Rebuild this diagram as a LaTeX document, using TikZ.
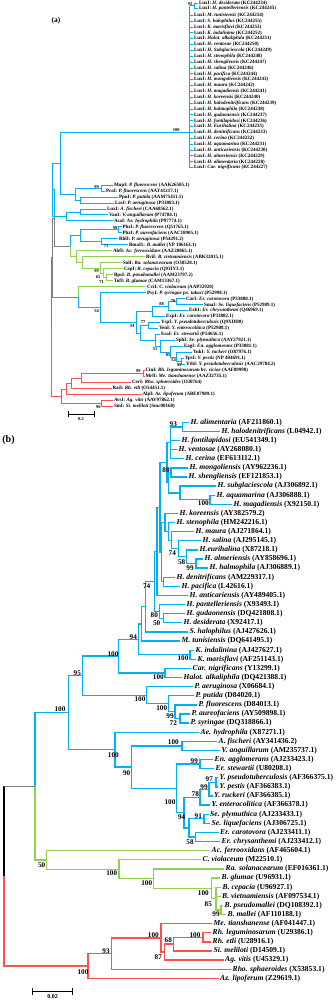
\documentclass[tikz,border=0pt]{standalone}
\usepackage{fontspec}
\setmainfont{Liberation Serif}
\usetikzlibrary{calc}
\definecolor{cblue}{RGB}{0,176,240}
\definecolor{cgreen}{RGB}{146,208,80}
\definecolor{cred}{RGB}{255,80,80}
\definecolor{cgrey}{RGB}{128,128,128}
\def\brw{1.3pt}
\tikzset{
 bl/.style={draw=cblue,line width=\brw},
 gr/.style={draw=cgreen,line width=\brw},
 rd/.style={draw=cred,line width=\brw},
 gy/.style={draw=cgrey,line width=\brw},
 bk/.style={draw=black,line width=\brw},
 cur/.style={bl},
 lfb/.style={anchor=west,inner sep=1.5pt,font=\fontsize{7.6}{8}\selectfont\bfseries},
 lfa/.style={anchor=west,inner sep=0.8pt,font=\fontsize{5}{5.5}\selectfont\bfseries},
 bsb/.style={inner sep=0pt,font=\fontsize{7.2}{8}\selectfont\bfseries},
 bsa/.style={inner sep=0pt,font=\fontsize{4.5}{5}\selectfont\bfseries},
 sbar/.style={draw=black,line width=0.7pt},
}
\newcommand\tnode[4]{\coordinate (m#1) at ($(#3)!0.5!(#4)$);\coordinate (x#1) at (#2,0);\coordinate (#1) at (m#1 -| x#1);}
\newcommand\tn[4]{\tnode{#1}{#2}{#3}{#4}\draw[cur] (#1) |- (#3);\draw[cur] (#1) |- (#4);}
\newcommand\tnc[6]{\tnode{#1}{#2}{#3}{#4}\draw[#5] (#1) |- (#3);\draw[#6] (#1) |- (#4);}
\newcommand\tx[2]{\draw[cur] (#1 |- #2) -- (#2);}
\newcommand\lb[3]{\coordinate (b#1) at (#2,{422.3+9.115*#1});\node[lfb] (tb#1) at (b#1) {#3};}
\newcommand\la[4]{\coordinate (#1) at (#3,{185+5.99*#2});\node[lfa] (t#1) at (#1) {#4};}
\begin{document}
\begin{tikzpicture}[x=1pt,y=-1pt]
\fill[white] (0,0) rectangle (336,1000);
\useasboundingbox (0,0) rectangle (336,1000);

% ================= PANEL (a) =================
\begin{scope}
\def\brw{0.9pt}
\node[inner sep=0pt,font=\fontsize{7.5}{8}\selectfont\bfseries] (pa) at (56,20.7) {(a)};
% LuxI clade
\coordinate (Lux) at (189.7,132.7);
\coordinate (lr1) at (198,3.5);
\coordinate (lr2) at (198,8.3);
\node[lfa] (tlr1) at (lr1) {LuxI: \textit{H. desiderata} (KC244234)};
\node[lfa] (tlr2) at (lr2) {LuxI: \textit{H. pantelleriensis} (KC244245)};
\tikzset{cur/.style={bl}}
\tn{a92}{194}{lr1}{lr2}
\coordinate (lrend) at (189.7,167.66);
\draw[bl] (Lux |- a92) -- (a92);
\draw[bl] (Lux |- a92) -- (lrend);
\foreach \t [count=\k from 3] in {
 {LuxI: \textit{M. tunisiensis} (KC244254)},
 {LuxI: \textit{S. halophilus} (KC244255)},
 {LuxI: \textit{K. marisflavi} (KC244253)},
 {LuxI: \textit{K. indalinina} (KC244252)},
 {LuxI: \textit{Halot. alkaliphila} (KC244251)},
 {LuxI: \textit{H. ventosae} (KC244250)},
 {LuxI: \textit{H. Subglaciescola} (KC244249)},
 {LuxI: \textit{H. stenophila} (KC244248)},
 {LuxI: \textit{H. shengliensis} (KC244247)},
 {LuxI: \textit{H. salina} (KC244246)},
 {LuxI: \textit{H. pacifica} (KC244244)},
 {LuxI: \textit{H. mongoliensis} (KC244243)},
 {LuxI: \textit{H. maura} (KC244242)},
 {LuxI: \textit{H. magadiensis} (KC244241)},
 {LuxI: \textit{H. koreensis} (KC244240)},
 {LuxI: \textit{H. halodenitrificans} (KC244239)},
 {LuxI: \textit{H. halmophila} (KC244238)},
 {LuxI: \textit{H. gudaonensis} (KC244237)},
 {LuxI: \textit{H. fontilapidosi} (KC244236)},
 {LuxI: \textit{H. Eurihalina} (KC244235)},
 {LuxI: \textit{H. denitrificans} (KC244233)},
 {LuxI: \textit{H. cerina} (KC244232)},
 {LuxI: \textit{H. aquamarina} (KC244231)},
 {LuxI: \textit{H. anticariensis} (KC244230)},
 {LuxI: \textit{H. almeriensis} (KC244229)},
 {LuxI: \textit{H. alimentaria} (KC244228)},
 {LuxI: \textit{Car. nigrificans} (KC244227)}}{
 \coordinate (lr\k) at (193,{15.3+5.86*(\k-3)});
 \node[lfa] (tlr\k) at (lr\k) {\t};
 \draw[bl] (Lux |- lr\k) -- (lr\k);
}
% leaves
\la{aMup}{0}{113}{MupI: \textit{P. fluorescens} (AAK26505.1)}
\la{aPco}{1}{105}{PcoI: \textit{P. fluorescens} (AAT41217.1)}
\la{aPpu}{2}{118}{PpuI: \textit{P. putida} (AAM75411.1)}
\la{aLas}{3}{114}{LasI: \textit{P. aeruginosa} (P33883.1)}
\la{aLux}{4}{106}{LuxI: \textit{A. fischeri} (CAA68562.1)}
\la{aVan}{5}{108}{VanI: \textit{V. anguillarum} (P74784.1)}
\la{aAsa}{6}{113}{AsaI: \textit{Ae. hydrophila} (P97774.1)}
\la{aPh1}{7}{121.5}{PhzI: \textit{P. fluorescens} (Q51765.1)}
\la{aPh2}{8}{121.5}{PhzI: \textit{P. aureofaciens} (AAC18905.1)}
\la{aRhl}{9}{118}{RhlI: \textit{P. aeruginosa} (P54291.2)}
\la{aBma}{10}{128}{BmaI1: \textit{B. mallei} (YP 106161.1)}
\la{aAbf}{11}{112}{AbfI: \textit{Ac. ferrooxidans} (AAZ20865.1)}
\la{aBvi}{12}{145}{BviI: \textit{B. vietnamiensis} (ABK32015.1)}
\la{aSol}{13}{122}{SolI: \textit{Ra. solanacearum} (O30528.1)}
\la{aCep}{14}{123}{CepI: \textit{B. cepacia} (Q93IY3.1)}
\la{aBps}{15}{113}{BpsI: \textit{B. pseudomallei} (AAM23797.2)}
\la{aTof}{16}{113}{TofI: \textit{B. glumae} (CAM13367.1)}
\la{aCvi}{17}{146}{CviI: \textit{C. violaceum} (AAP32920)}
\la{aPsy}{18}{146}{PsyI: \textit{P. syringae} pv. \textit{tabaci} (P52998.1)}
\la{aCar}{19}{185}{CarI: \textit{Er. carotovora} (P33880.1)}
\la{aSma}{20}{203}{SmaI: \textit{Se. liquefaciens} (P52989.1)}
\la{aExb}{21}{188}{ExbI: \textit{Er. chrysanthemi} (Q46969.1)}
\la{aExp}{22}{165}{ExpI: \textit{Er. carotovora} (P33882.1)}
\la{aYsp}{23}{160}{YspI: \textit{Y. pseudotuberculosis} (Q9XDD0)}
\la{aYen}{24}{158}{YenI: \textit{Y. enterocolitica} (P52988.1)}
\la{aEsa}{25}{160}{EsaI: \textit{Er. stewartii} (P54656.1)}
\la{aSph}{26}{175}{SphI: \textit{Se. plymuthica} (AAY27921.1)}
\la{aEag}{27}{183}{EagI: \textit{En. agglomerans} (P33881.1)}
\la{aYuk}{28}{192}{YukI: \textit{Y. ruckeri} (O87976.1)}
\la{aYps}{29}{184}{YpsI: \textit{Y. pestis} (NP 404691.1)}
\la{aYtb}{30}{185}{YtbI: \textit{Y. pseudotuberculosis} (AAC29784.2)}
\la{aCin}{31}{144.5}{CinI: \textit{Rh. leguminosarum} bv. \textit{viciae} (AAF89990)}
\la{aMrl}{32}{144.5}{MrlI: \textit{Me. tianshanense} (AAZ32735.1)}
\la{aCer}{33}{131}{CerI: \textit{Rho. sphaeroides} (O30764)}
\la{aRai}{34}{111.5}{RaiI: \textit{Rh. etli} (O54451.1)}
\la{aAlp}{35}{141.5}{AlpI: \textit{Az. lipoferum} (ABE07989.1)}
\la{aAvs}{36}{113}{AvsI: \textit{Ag. vitis} (AAV97862.1)}
\la{aSin}{37}{113}{SinI: \textit{Si. meliloti} (Smc00168)}
% tree (a)
\tikzset{cur/.style={bl}}
\tn{aMP}{101}{aMup}{aPco}
\tn{aPL}{80}{aPpu}{aLas}
\tn{aPs}{75}{aMP}{aPL}
\tn{aP1}{60}{Lux}{aPs}
\tn{aLV}{80}{aLux}{aVan}
\tn{aP2}{66.7}{aLV}{aAsa}
\tn{aQ1}{52}{aP1}{aP2}
\tn{aPP}{118}{aPh1}{aPh2}
\tn{aRB}{101.7}{aRhl}{aBma}
\tn{aPs2}{80}{aPP}{aRB}
\tikzset{cur/.style={gr}}
\tn{aTB}{106}{aBps}{aTof}
\tn{aCX}{103}{aCep}{aTB}
\tn{aSC}{100}{aSol}{aCX}
\tn{aBC}{82}{aBvi}{aSC}
\tn{aBu}{76.7}{aAbf}{aBC}
\tnc{aG3}{70}{aPs2}{aBu}{bl}{gr}
\tnc{aQ2}{54}{aQ1}{aG3}{bl}{gy}
\tikzset{cur/.style={bl}}
\tn{aCS}{176}{aCar}{aSma}
\tn{aCSE}{168}{aCS}{aExb}
\tn{aCE}{152}{aCSE}{aExp}
\tn{aYY}{148}{aYsp}{aYen}
\tn{aYP}{181.5}{aYps}{aYtb}
\tn{aYU}{176}{aYuk}{aYP}
\tn{aEY}{170}{aEag}{aYU}
\tn{aSE}{160}{aSph}{aEY}
\tn{aES}{155}{aEsa}{aSE}
\tn{aYE}{140}{aYY}{aES}
\tn{aEC}{136.7}{aCE}{aYE}
\tn{aEn}{100}{aPsy}{aEC}
\tnc{aCv}{78.3}{aCvi}{aEn}{gr}{bl}
\tnc{aQ3}{52.5}{aQ2}{aCv}{gy}{gy}
\tikzset{cur/.style={rd}}
\tn{aCM}{143.3}{aCin}{aMrl}
\tn{aX1}{81}{aCM}{aCer}
\tn{aX2}{71.7}{aX1}{aRai}
\tn{aX3}{66.7}{aX2}{aAlp}
\tn{aAS}{101.7}{aAvs}{aSin}
\tn{aX4}{61.7}{aX3}{aAS}
\tnc{aR}{51.5}{aQ3}{aX4}{gy}{rd}
% bootstrap (a)
\foreach \x/\y/\t [count=\i] in {190/4/92,176.3/130/100,96.7/186.7/99,115/228.3/99,106/246.5/71,
 96.7/270.7/99,98/276.9/65,101.7/282.2/71,96.7/310.7/54,173/300.7/70,161.7/304/88,143/322.5/77,
 132.5/325.7/91,155/349.3/51,168/355/85,173.5/360.5/54,179/365/99,138.3/371/99,98.3/406.7/96}{
 \node[bsa] (ba\i) at (\x,\y) {\t};
}
% scale bar (a)
\coordinate (sa1) at (68.3,414.3);
\coordinate (sa2) at (94,414.3);
\draw[sbar,line width=0.5pt,|-|] (sa1) -- (sa2);
\node[bsa] (sal) at (81,418.6) {0.2};
\end{scope}

% ================= PANEL (b) =================
\node[inner sep=0pt,font=\fontsize{10}{11}\selectfont\bfseries] (pb) at (8.5,440) {(b)};
\lb{0}{189}{\textit{H. alimentaria} (AF211860.1)}
\lb{1}{220}{\textit{H. halodenitrificans} (L04942.1)}
\lb{2}{180}{\textit{H. fontilapidosi} (EU541349.1)}
\lb{3}{177}{\textit{H. ventosae} (AY268080.1)}
\lb{4}{184}{\textit{H. cerina} (EF613112.1)}
\lb{5}{188}{\textit{H. mongoliensis} (AY962236.1)}
\lb{6}{187}{\textit{H. shengliensis} (EF121853.1)}
\lb{7}{216}{\textit{H. subglaciescola} (AJ306892.1)}
\lb{8}{215}{\textit{H. aquamarina} (AJ306888.1)}
\lb{9}{232}{\textit{H. magadiensis} (X92150.1)}
\lb{10}{178}{\textit{H. koreensis} (AY382579.2)}
\lb{11}{175}{\textit{H. stenophila} (HM242216.1)}
\lb{12}{194}{\textit{H. maura} (AJ271864.1)}
\lb{13}{201}{\textit{H. salina} (AJ295145.1)}
\lb{14}{198}{\textit{H.eurihalina} (X87218.1)}
\lb{15}{203}{\textit{H. almeriensis} (AY858696.1)}
\lb{16}{208}{\textit{H. halmophila} (AJ306889.1)}
\lb{17}{175}{\textit{H. denitrificans} (AM229317.1)}
\lb{18}{180}{\textit{H. pacifica} (L42616.1)}
\lb{19}{188}{\textit{H. anticariensis} (AY489405.1)}
\lb{20}{185}{\textit{H. pantelleriensis} (X93493.1)}
\lb{21}{185}{\textit{H. gudaonensis} (DQ421808.1)}
\lb{22}{182}{\textit{H. desiderata} (X92417.1)}
\lb{23}{188}{\textit{S. halophilus} (AJ427626.1)}
\lb{24}{180}{\textit{M. tunisiensis} (DQ641495.1)}
\lb{25}{194}{\textit{K. indalinina} (AJ427627.1)}
\lb{26}{196}{\textit{K. marisflavi} (AF251143.1)}
\lb{27}{191}{\textit{Car. nigrificans} (Y13299.1)}
\lb{28}{182}{\textit{Halot. alkaliphila} (DQ421388.1)}
\lb{29}{193}{\textit{P. aeruginosa} (X06684.1)}
\lb{30}{194}{\textit{P. putida} (D84020.1)}
\lb{31}{197}{\textit{P. fluorescens} (D84013.1)}
\lb{32}{190}{\textit{P. aureofaciens} (AY509898.1)}
\lb{33}{189}{\textit{P. syringae} (DQ318866.1)}
\lb{34}{199}{\textit{Ae. hydrophila} (X87271.1)}
\lb{35}{217}{\textit{A. fischeri} (AY341436.2)}
\lb{36}{220}{\textit{V. anguillarum} (AM235737.1)}
\lb{37}{213}{\textit{En. agglomerans} (AJ233423.1)}
\lb{38}{214}{\textit{Er. stewartii} (U80208.1)}
\lb{39}{218}{\textit{Y. pseudotuberculosis} (AF366375.1)}
\lb{40}{218}{\textit{Y. pestis} (AF366383.1)}
\lb{41}{212.5}{\textit{Y. ruckeri} (AF366385.1)}
\lb{42}{210}{\textit{Y. enterocolitica} (AF366378.1)}
\lb{43}{208.5}{\textit{Se. plymuthica} (AJ233433.1)}
\lb{44}{210}{\textit{Se. liquefaciens} (AJ306725.1)}
\lb{45}{218.5}{\textit{Er. carotovora} (AJ233411.1)}
\lb{46}{220}{\textit{Er. chrysanthemi} (AJ233412.1)}
\lb{47}{210}{\textit{Ac. ferrooxidans} (AF465604.1)}
\lb{48}{201}{\textit{C. violaceum} (M22510.1)}
\lb{49}{224}{\textit{Ra. solanacearum} (EF016361.1)}
\lb{50}{220}{\textit{B. glumae} (U96931.1)}
\lb{51}{221}{\textit{B. cepacia} (U96927.1)}
\lb{52}{220.5}{\textit{B. vietnamiensis} (AF097534.1)}
\lb{53}{223}{\textit{B. pseudomallei} (DQ108392.1)}
\lb{54}{226}{\textit{B. mallei} (AF110188.1)}
\lb{55}{212}{\textit{Me. tianshanense} (AF041447.1)}
\lb{56}{211}{\textit{Rh. leguminosarum} (U29386.1)}
\lb{57}{211}{\textit{Rh. etli} (U28916.1)}
\lb{58}{212}{\textit{Si. meliloti} (D14509.1)}
\lb{59}{223.5}{\textit{Ag. vitis} (U45329.1)}
\lb{60}{231}{\textit{Rho. sphaeroides} (X53853.1)}
\lb{61}{218.5}{\textit{Az. lipoferum} (Z29619.1)}
% tree (b)
\tikzset{cur/.style={bl}}
\tn{h93}{182.3}{b0}{b1}
\tn{hA}{170.5}{h93}{b4}\tx{hA}{b2}\tx{hA}{b3}
\tn{hMS}{171}{b5}{b6}
\tn{sa}{210}{b8}{b9}
\tn{sb}{180}{b7}{sa}
\tn{hB}{168.3}{hMS}{sb}
\tn{hC}{167}{hA}{hB}
\tn{n99}{196}{b15}{b16}
\tn{n58}{186.7}{b14}{n99}
\tn{n74}{178.3}{b13}{n58}
\tn{nMa}{171.7}{b12}{n74}
\tn{nSt}{168.3}{b11}{nMa}
\tn{nKo}{165}{b10}{nSt}
\tn{nDP}{163.3}{b17}{b18}
\tn{nKD}{161.7}{nKo}{nDP}
\tn{nHa}{160}{hC}{nKD}
\tn{nAn}{157}{nHa}{b19}
\tn{nGD}{163.3}{b21}{b22}
\tn{nPG}{159.3}{b20}{nGD}
\tn{nHal}{154.3}{nAn}{nPG}
\tn{nS}{145.7}{nHal}{b23}
\tn{nM}{141.7}{nS}{b24}
\tn{nK}{190}{b25}{b26}
\tn{n94}{138.3}{nM}{nK}
\tn{nCH}{165}{b27}{b28}
\tn{nA}{118.3}{n94}{nCH}
\tn{pAS}{180}{b32}{b33}
\tn{pFA}{175}{b31}{pAS}
\tn{pPF}{168.3}{b30}{pFA}
\tn{pAl}{146.7}{b29}{pPF}
\tn{n95}{82.3}{nA}{pAl}
\tn{vA}{182}{b35}{b36}
\tn{eE}{200}{b37}{b38}
\tn{y97}{216}{b39}{b40}
\tn{y99}{209}{y97}{b41}
\tn{y78}{200}{y99}{b42}
\tn{s91}{204}{b43}{b44}
\tn{ec}{195.7}{b45}{b46}
\tn{sE}{189}{s91}{ec}
\tn{ysE}{184}{y78}{sE}
\tn{eys}{176.7}{eE}{ysE}
\tn{vE}{131.7}{vA}{eys}
\tn{aVE}{115}{b34}{vE}
\tn{gam}{68.3}{n95}{aVE}
\tikzset{cur/.style={gr}}
\tn{bPM}{221}{b53}{b54}
\tn{bCV}{216}{b51}{bPM}\tx{bCV}{b52}
\tn{bG}{211.7}{b50}{bCV}
\tn{rB}{153.3}{b49}{bG}
\tn{cRB}{119}{b48}{rB}
\tn{aC}{46.7}{b47}{cRB}
\tnc{Ab}{35}{gam}{aC}{bl}{gr}
\tikzset{cur/.style={rd}}
\tn{rLE}{203}{b56}{b57}
\tn{rS}{173.3}{rLE}{b58}
\tn{rA}{164.7}{rS}{b59}
\tn{rM}{161}{b55}{rA}
\tn{rR}{111.7}{rM}{b60}
\tn{rAz}{88}{rR}{b61}
\tnode{Rb}{4}{Ab}{rAz}
\draw[bk] (Rb) -- (Rb |- Ab);
\draw[gy] (Rb |- Ab) -- (Ab);
\draw[rd] (Rb) |- (rAz);
% bootstrap (b)
\foreach \x/\y/\t [count=\i] in {173.3/424.3/93,166/470/80,203.3/503.3/100,172.3/553.3/74,181.7/561.7/58,
 190/568.5/99,146.7/585.7/74,154.3/615/80,156.7/623.3/50,133.3/637.3/94,183/658/100,113/654/100,
 158.3/676.7/100,77.3/672.7/95,140/699/100,161.7/708.3/100,170/715.7/99,173.3/723.3/72,60/709.3/100,
 113.3/754.7/100,173.3/742.3/100,126.7/772.7/90,194.3/761/99,209.3/779/97,204/786.7/99,195.3/794.3/78,
 170/802.3/100,181.7/817.3/94,198.3/816/91,190/842.3/58,41.7/865/50,111.7/873.3/100,146.7/883.3/100,
 203.3/893.3/100,208.3/904.3/85,216/914/99,153.3/935/100,168.3/940/68,195/935/100,158.3/956.7/87,
 106/950.7/93,83/971.7/100}{
 \node[bsb] (bb\i) at (\x,\y) {\t};
}
% scale bar (b)
\coordinate (sb1) at (32.3,991.7);
\coordinate (sb2) at (72.7,991.7);
\draw[sbar,|-|] (sb1) -- (sb2);
\node[inner sep=0pt,font=\fontsize{6}{7}\selectfont\bfseries] (sbl) at (52.7,996.3) {0.02};
\end{tikzpicture}
\end{document}
